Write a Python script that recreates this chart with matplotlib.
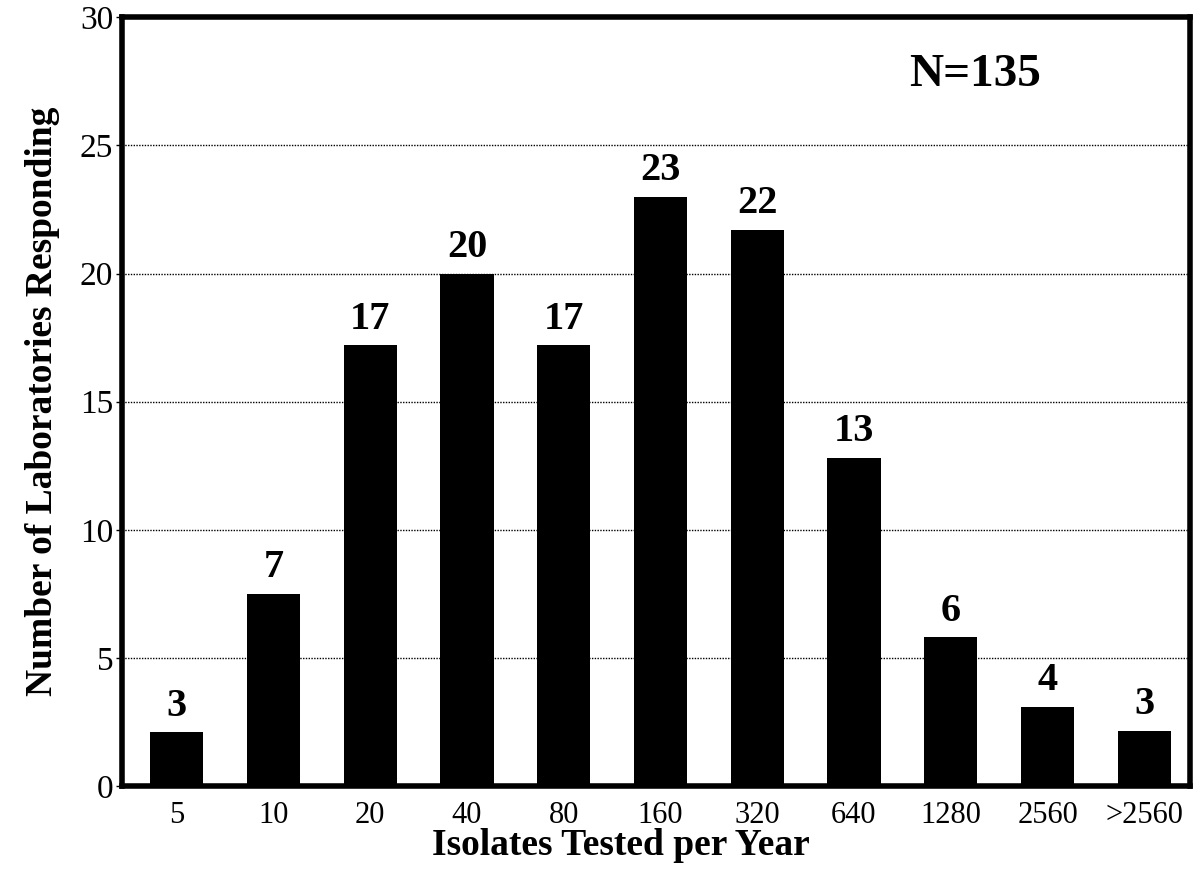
import matplotlib
matplotlib.use("Agg")
import matplotlib.pyplot as plt
import numpy as np

# categories and values
categories = ["5", "10", "20", "40", "80", "160", "320", "640", "1280", "2560", ">2560"]
bar_heights = [2.1, 7.5, 17.2, 20.0, 17.2, 23.0, 21.7, 12.8, 5.8, 3.1, 2.15]
bar_labels = ["3", "7", "17", "20", "17", "23", "22", "13", "6", "4", "3"]
y_ticks = [0, 5, 10, 15, 20, 25, 30]

plt.rcParams["font.family"] = ["Liberation Serif", "DejaVu Serif"]

fig = plt.figure(figsize=(12.03, 8.69), dpi=100)
ax = fig.add_axes([0.101, 0.0955, 0.888, 0.8845])

x = np.arange(len(categories))
ax.bar(x, bar_heights, width=0.55, color="black", zorder=3)

for xi, h, lab in zip(x, bar_heights, bar_labels):
    ax.text(xi, h + 0.3, lab, ha="center", va="bottom",
            fontsize=29, fontweight="bold", zorder=4)

ax.set_xlim(-0.57, 10.47)
ax.set_ylim(0, 30)
ax.set_xticks(x)
ax.set_xticklabels(categories, fontsize=22)
ax.set_yticks(y_ticks)
ax.set_yticklabels([str(t) for t in y_ticks], fontsize=24)
ax.tick_params(axis="x", length=0, pad=11)
ax.tick_params(axis="y", length=4, width=1, direction="out", pad=2)

ax.yaxis.grid(True, linestyle=(0, (1, 1)), color="black", linewidth=1, zorder=0)
ax.set_axisbelow(True)

for sp in ax.spines.values():
    sp.set_linewidth(4)

ax.set_xlabel("Isolates Tested per Year", fontsize=27, fontweight="bold")
ax.xaxis.set_label_coords(0.467, -0.055)
ax.set_ylabel("Number of Laboratories Responding", fontsize=27, fontweight="bold", labelpad=14)

ax.text(0.799, 0.925, "N=135", transform=ax.transAxes, ha="center", va="center",
        fontsize=34, fontweight="bold")

fig.savefig("out.png", dpi=100)
